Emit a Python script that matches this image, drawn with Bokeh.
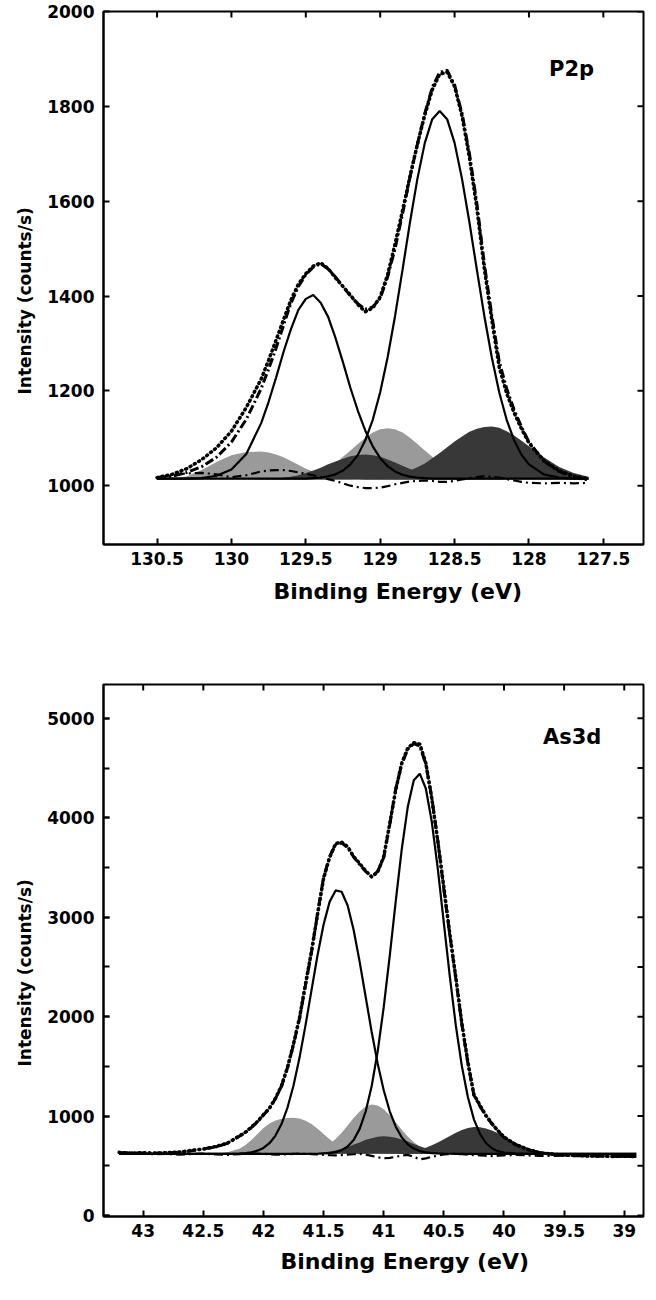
from bokeh.plotting import figure
from bokeh.layouts import column
from bokeh.models import Range1d, SingleIntervalTicker, NumeralTickFormatter, Label, Title
from bokeh.embed import file_html
from bokeh.resources import INLINE

# ======================= P2p panel data =======================
p2p_be = ([130.5, 130.4, 130.3, 130.2, 130.1, 130.0, 129.9] +
          [129.8, 129.75, 129.7, 129.65, 129.6, 129.55, 129.5, 129.45, 129.4, 129.35,
           129.3, 129.25, 129.2, 129.15, 129.1, 129.05, 129.0, 128.95, 128.9, 128.85,
           128.8, 128.75, 128.7, 128.65, 128.6, 128.55, 128.5, 128.45, 128.4, 128.35,
           128.3, 128.25, 128.2, 128.15, 128.1, 128.05, 128.0] +
          [127.9, 127.8, 127.7, 127.6])
p2p_raw = ([1017, 1024, 1036, 1055, 1080, 1115, 1165] +
           [1225, 1265, 1307, 1350, 1392, 1425, 1447, 1463, 1470, 1458,
            1438, 1420, 1402, 1382, 1367, 1375, 1398, 1445, 1510, 1580,
            1652, 1720, 1782, 1835, 1868, 1872, 1842, 1780, 1692, 1585,
            1458, 1350, 1250, 1195, 1154, 1120, 1090] +
           [1053, 1032, 1020, 1014])
p2p_fit = ([1015, 1020, 1028, 1040, 1060, 1092, 1140] +
           [1205, 1246, 1290, 1338, 1385, 1420, 1445, 1461, 1468, 1457,
            1440, 1420, 1400, 1384, 1372, 1377, 1395, 1440, 1500, 1573,
            1650, 1720, 1785, 1840, 1872, 1876, 1845, 1785, 1700, 1595,
            1468, 1360, 1262, 1205, 1160, 1124, 1092] +
           [1052, 1030, 1018, 1012])
p2p_comp1 = ([1015, 1015, 1015, 1016, 1021, 1034, 1067] +
             [1132, 1177, 1228, 1282, 1330, 1371, 1394, 1402, 1386, 1356,
              1311, 1260, 1206, 1158, 1116, 1083, 1058, 1041, 1030, 1023,
              1019, 1017, 1016, 1015, 1015, 1015, 1015, 1015, 1015, 1015,
              1015, 1015, 1015, 1015, 1015, 1015, 1015] +
             [1015, 1015, 1015, 1015])
p2p_comp2 = ([1015, 1015, 1015, 1015, 1015, 1015, 1015] +
             [1015, 1015, 1015, 1015, 1015, 1015, 1015, 1016, 1017, 1020,
              1024, 1032, 1045, 1065, 1096, 1139, 1197, 1271, 1358, 1455,
              1555, 1647, 1723, 1773, 1790, 1773, 1723, 1647, 1555, 1455,
              1358, 1271, 1197, 1139, 1096, 1065, 1045] +
             [1024, 1017, 1015, 1015])
p2p_light1 = ([1013, 1014, 1020, 1033, 1050, 1064, 1071] +
              [1072, 1070, 1066, 1060, 1052, 1044, 1036, 1030, 1024, 1020,
               1017, 1015, 1014, 1013, 1013, 1013, 1013, 1013, 1013, 1013,
               1013, 1013, 1013, 1013, 1013, 1013, 1013, 1013, 1013, 1013,
               1013, 1013, 1013, 1013, 1013, 1013, 1013] +
              [1013, 1013, 1013, 1013])
p2p_light2 = ([1013, 1013, 1013, 1013, 1013, 1013, 1013] +
              [1013, 1013, 1014, 1014, 1016, 1017, 1020, 1024, 1030, 1038,
               1048, 1061, 1074, 1088, 1101, 1112, 1119, 1121, 1119, 1112,
               1101, 1088, 1074, 1061, 1048, 1038, 1030, 1024, 1020, 1017,
               1016, 1014, 1014, 1013, 1013, 1013, 1013] +
              [1013, 1013, 1013, 1013])
p2p_dark1 = ([1013, 1013, 1013, 1013, 1013, 1013, 1013] +
             [1014, 1014, 1015, 1017, 1019, 1022, 1027, 1032, 1038, 1045,
              1051, 1057, 1062, 1065, 1066, 1064, 1061, 1055, 1049, 1042,
              1035, 1030, 1025, 1021, 1018, 1016, 1015, 1014, 1014, 1013,
              1013, 1013, 1013, 1013, 1013, 1013, 1013] +
             [1013, 1013, 1013, 1013])
p2p_dark2 = ([1013, 1013, 1013, 1013, 1013, 1013, 1013] +
             [1013, 1013, 1013, 1013, 1013, 1013, 1013, 1013, 1013, 1013,
              1013, 1013, 1013, 1013, 1014, 1015, 1016, 1019, 1022, 1026,
              1032, 1039, 1047, 1058, 1069, 1081, 1093, 1104, 1114, 1120,
              1124, 1125, 1122, 1115, 1106, 1095, 1083] +
             [1060, 1040, 1027, 1019])
p2p_resid = ([1018, 1022, 1026, 1027, 1024, 1018, 1022] +
             [1030, 1032, 1033, 1033, 1031, 1028, 1025, 1022, 1018, 1014,
              1010, 1005, 1000, 997, 995, 995, 996, 999, 1003, 1006,
              1009, 1010, 1011, 1010, 1008, 1008, 1010, 1013, 1016, 1018,
              1020, 1019, 1017, 1014, 1011, 1008, 1006] +
             [1005, 1006, 1005, 1006])
p2p_base = 1013
p2p_xticks = [130.5, 130.0, 129.5, 129.0, 128.5, 128.0, 127.5]
p2p_yticks = [1000, 1200, 1400, 1600, 1800, 2000]

# ======================= As3d panel data =======================
as3d_be = ([43.2, 43.1, 43.0, 42.9, 42.8, 42.7, 42.6, 42.5, 42.4, 42.3] +
           [42.2, 42.15, 42.1, 42.05, 42.0, 41.95, 41.9, 41.85, 41.8, 41.75,
            41.7, 41.65, 41.6, 41.55, 41.5, 41.45, 41.4, 41.35, 41.3, 41.25,
            41.2, 41.15, 41.1, 41.05, 41.0, 40.95, 40.9, 40.85, 40.8, 40.75,
            40.7, 40.65, 40.6, 40.55, 40.5, 40.45, 40.4, 40.35, 40.3, 40.25,
            40.2, 40.15, 40.1, 40.05, 40.0] +
           [39.9, 39.8, 39.7, 39.6, 39.5, 39.4, 39.3, 39.2, 39.1, 39.0, 38.9])
as3d_raw = ([635, 628, 632, 626, 633, 638, 655, 668, 692, 728] +
            [800, 838, 890, 945, 1015, 1080, 1180, 1305, 1490, 1725,
             1990, 2330, 2660, 3030, 3390, 3600, 3740, 3755, 3710, 3610,
             3540, 3465, 3405, 3455, 3610, 3940, 4280, 4550, 4700, 4755,
             4740, 4550, 4190, 3760, 3300, 2830, 2390, 1930, 1540, 1215,
             1110, 1005, 925, 852, 790] +
            [712, 664, 630, 618, 606, 606, 598, 600, 594, 596, 592])
as3d_fit = ([632, 630, 628, 628, 630, 635, 650, 670, 688, 725] +
            [797, 835, 885, 940, 1010, 1075, 1176, 1300, 1485, 1720,
             1980, 2320, 2650, 3040, 3400, 3610, 3730, 3748, 3700, 3605,
             3530, 3460, 3410, 3460, 3600, 3930, 4290, 4540, 4690, 4745,
             4720, 4540, 4200, 3770, 3280, 2817, 2380, 1920, 1530, 1208,
             1100, 1000, 920, 850, 785] +
            [710, 660, 632, 615, 608, 604, 600, 598, 596, 594, 594])
as3d_comp1 = ([620] * 10 +
              [623, 628, 636, 652, 680, 727, 804, 920, 1086, 1308,
               1588, 1915, 2269, 2620, 2927, 3154, 3269, 3256, 3118, 2871,
               2551, 2197, 1846, 1527, 1259, 1048, 893, 786, 716, 673,
               648, 634, 627, 624, 622, 621, 620, 620, 620, 620,
               620, 620, 620, 620, 620] +
              [620] * 11)
as3d_comp2 = ([620] * 10 +
              [620, 620, 620, 620, 620, 620, 620, 620, 620, 620,
               620, 620, 621, 621, 625, 628, 637, 657, 694, 760,
               871, 1046, 1302, 1652, 2095, 2612, 3161, 3684, 4110, 4378,
               4443, 4294, 3957, 3483, 2941, 2400, 1906, 1500, 1189, 967,
               821, 729, 676, 647, 633] +
              [622, 620, 620, 620, 620, 620, 620, 620, 620, 620, 620])
as3d_light1 = ([620, 620, 620, 620, 620, 620, 620, 620, 622, 635] +
               [672, 710, 760, 820, 880, 925, 955, 972, 980, 982,
                975, 952, 920, 872, 820, 768, 720, 685, 660, 645,
                635, 629, 625, 622, 621] + [620] * 20 +
               [620] * 11)
as3d_light2 = ([620] * 10 +
               [620, 620, 620, 620, 620, 620, 620, 620, 620, 621,
                625, 630, 639, 655, 681, 718, 770, 833, 906, 981,
                1047, 1095, 1117, 1107, 1069, 1009, 937, 862, 794, 737,
                694, 664, 645, 633, 628, 624, 622, 621, 620, 620,
                620, 620, 620, 620, 620] +
               [620] * 11)
as3d_dark1 = ([620] * 10 +
              [620, 620, 620, 620, 620, 620, 620, 620, 620, 621,
               622, 623, 624, 629, 633, 643, 653, 672, 687, 714,
               733, 761, 776, 792, 796, 792, 782, 764, 743, 720,
               696, 676, 658, 646, 636, 630, 626, 623, 621, 620,
               620, 620, 620, 620, 620] +
              [620] * 11)
as3d_dark2 = ([620] * 10 +
              [620, 620, 620, 620, 620, 620, 620, 620, 620, 620,
               620, 620, 620, 620, 620, 620, 620, 620, 620, 620,
               620, 620, 620, 621, 622, 623, 626, 631, 638, 648,
               663, 682, 706, 735, 767, 800, 832, 859, 879, 889,
               887, 876, 855, 826, 794] +
              [729, 678, 646, 630, 623, 620, 620, 620, 620, 620, 620])
as3d_resid = ([625, 618, 622, 615, 620, 612, 618, 622, 615, 610] +
              [618, 622, 625, 623, 620, 616, 612, 613, 615, 619,
               622, 620, 618, 614, 610, 607, 605, 608, 612, 616,
               620, 612, 600, 585, 575, 580, 590, 602, 610, 590,
               565, 575, 590, 603, 615, 618, 620, 616, 612, 608,
               605, 601, 598, 601, 605] +
              [610, 604, 600, 598, 602, 596, 598, 594, 596, 592, 594])
as3d_base = 620
as3d_xticks = [43.0, 42.5, 42.0, 41.5, 41.0, 40.5, 40.0, 39.5, 39.0]
as3d_yticks = [0, 500, 1000, 1500, 2000, 2500, 3000, 3500, 4000, 4500, 5000]

LIGHT = "#9a9a9a"
DARK = "#383838"
HFONT = "DejaVu Sans"


def style_axis(ax):
    ax.axis_line_width = 2
    ax.axis_line_color = "black"
    ax.major_tick_line_width = 2
    ax.major_tick_in = 6
    ax.major_tick_out = 0
    ax.minor_tick_line_width = 2
    ax.minor_tick_in = 6
    ax.minor_tick_out = 0
    ax.major_label_text_font = HFONT
    ax.major_label_text_font_style = "bold"
    ax.major_label_text_color = "black"
    ax.major_label_text_font_size = "17px"


def panel(be, raw, fit, comp1, comp2, light1, light2, dark1, dark2, resid, base,
          xr, yr, yinterval, yminor, xticks, yticks, tag, tag_pos,
          xtitle_offset, xtitle_standoff, ytitle_offset, height, border_top, border_bottom):
    p = figure(width=645, height=height, output_backend="svg", toolbar_location=None,
               x_range=Range1d(*xr), y_range=Range1d(*yr),
               min_border_left=103, min_border_right=2,
               min_border_top=border_top, min_border_bottom=border_bottom)
    p.xgrid.visible = False
    p.ygrid.visible = False
    p.outline_line_color = "black"
    p.outline_line_width = 2
    p.background_fill_color = "white"
    p.border_fill_color = "white"

    p.xaxis[0].ticker = SingleIntervalTicker(interval=0.5, num_minor_ticks=0)
    p.xaxis[0].formatter = NumeralTickFormatter(format="0.[0]")
    p.yaxis[0].ticker = SingleIntervalTicker(interval=yinterval, num_minor_ticks=yminor)
    style_axis(p.xaxis[0])
    style_axis(p.yaxis[0])
    p.xaxis[0].major_label_standoff = 7
    p.yaxis[0].major_label_standoff = 9

    p.add_layout(Title(text="Binding Energy (eV)", align="left", offset=xtitle_offset,
                       text_font=HFONT, text_font_style="bold", text_font_size="22px",
                       text_color="black", standoff=xtitle_standoff), "below")
    p.add_layout(Title(text="Intensity (counts/s)", align="left", offset=ytitle_offset,
                       vertical_align="bottom",
                       text_font=HFONT, text_font_style="bold", text_font_size="17px",
                       text_color="black", standoff=20), "left")

    # shaded minor components
    p.varea(x=be, y1=base, y2=light1, fill_color=LIGHT)
    p.varea(x=be, y1=base, y2=light2, fill_color=LIGHT)
    p.varea(x=be, y1=base, y2=dark1, fill_color=DARK)
    p.varea(x=be, y1=base, y2=dark2, fill_color=DARK)

    # residual
    p.line(be, resid, line_color="black", line_width=2.2, line_dash="9 4 2 4")
    # main components
    p.line(be, comp1, line_color="black", line_width=2.2)
    p.line(be, comp2, line_color="black", line_width=2.2)
    # fit envelope
    p.line(be, fit, line_color="black", line_width=3, line_dash="9 3 2 3")
    # raw data
    p.line(be, raw, line_color="black", line_width=3.5, line_dash="1 4", line_cap="round")

    # mirrored inward ticks on the top and right frame edges (half of each dash is clipped)
    p.scatter(x=xticks, y=[yr[1]] * len(xticks), marker="dash", size=12, angle=1.5708,
              line_color="black", line_width=2)
    p.scatter(x=[xr[1]] * len(yticks), y=yticks, marker="dash", size=12,
              line_color="black", line_width=2)

    p.add_layout(Label(x=tag_pos[0], y=tag_pos[1], text=tag, text_font=HFONT,
                       text_font_style="bold", text_font_size="21px", text_color="black",
                       text_baseline="alphabetic"))
    return p


p1 = panel(p2p_be, p2p_raw, p2p_fit, p2p_comp1, p2p_comp2, p2p_light1, p2p_light2,
           p2p_dark1, p2p_dark2, p2p_resid, p2p_base,
           (130.86, 127.23), (876, 2000), 200, 0, p2p_xticks, p2p_yticks,
           "P2p", (127.865, 1878), 170, 18, 150,
           620, 11, 76)
p2 = panel(as3d_be, as3d_raw, as3d_fit, as3d_comp1, as3d_comp2, as3d_light1, as3d_light2,
           as3d_dark1, as3d_dark2, as3d_resid, as3d_base,
           (43.33, 38.84), (-10, 5340), 1000, 2, as3d_xticks, as3d_yticks,
           "As3d", (39.676, 4808), 177, 15, 150,
           664, 64, 68)

layout = column(p1, p2)
open("out.html", "w").write(file_html(layout, INLINE))
